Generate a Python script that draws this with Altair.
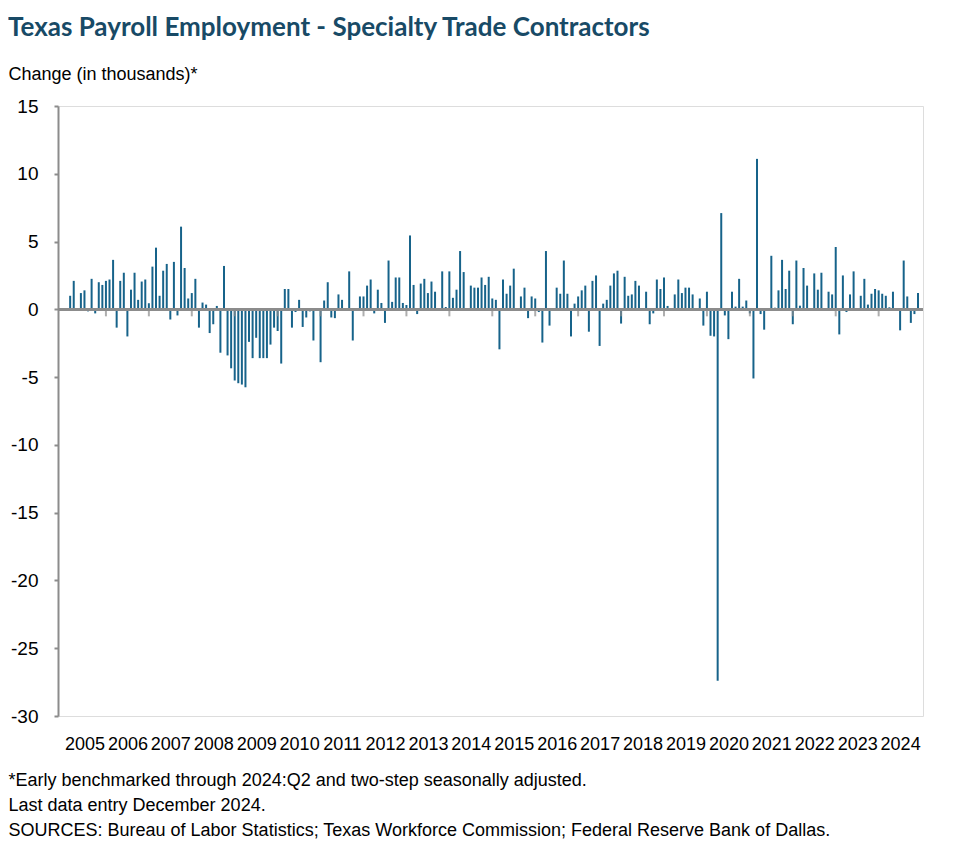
import altair as alt
import pandas as pd

# ---- data (monthly change, thousands), Jan 2005 .. Dec 2024 ----
years = list(range(2005, 2025))
change = [
    0.0, 0.0, 1.0, 2.1, 0.0, 1.2, 1.4, -0.15, 2.25, -0.3, 2.0, 1.8,        # 2005
    2.1, 2.2, 3.65, -1.35, 2.1, 2.7, -2.0, 1.45, 2.7, 0.7, 2.05, 2.2,      # 2006
    0.45, 3.15, 4.55, 1.0, 2.85, 3.35, -0.75, 3.5, -0.45, 6.1, 3.05, 0.8,  # 2007
    1.2, 2.25, -1.35, 0.5, 0.35, -1.75, -1.1, 0.25, -3.2, 3.2, -3.4, -4.35,  # 2008
    -5.25, -5.45, -5.55, -5.75, -2.4, -3.6, -2.1, -3.6, -3.6, -3.6, -2.6, -1.35,  # 2009
    -1.6, -4.0, 1.5, 1.5, -1.35, -0.2, 0.7, -1.3, -0.6, -0.15, -2.3, 0.0,  # 2010
    -3.9, 0.65, 2.0, -0.6, -0.65, 1.1, 0.7, 0.0, 2.8, -2.3, 0.0, 0.95,     # 2011
    0.95, 1.75, 2.2, -0.3, 1.45, 0.47, -1.0, 3.6, 0.55, 2.35, 2.35, 0.47,  # 2012
    0.32, 5.45, 1.8, -0.35, 1.9, 2.25, 1.2, 2.05, 1.3, 0.0, 2.8, 0.17,     # 2013
    2.8, 0.85, 1.45, 4.3, 2.75, 0.0, 1.75, 1.6, 1.6, 2.35, 1.8, 2.4,       # 2014
    0.8, 0.7, -2.95, 2.2, 1.15, 1.75, 3.0, 0.0, 0.95, 1.6, -0.65, 0.95,    # 2015
    0.8, -0.2, -2.45, 4.3, -1.2, 0.0, 1.6, 1.15, 3.6, 1.15, -2.0, 0.42,    # 2016
    0.95, 1.4, 1.75, -1.65, 2.1, 2.5, -2.7, 0.42, 0.7, 1.75, 2.65, 2.85,   # 2017
    -1.05, 2.4, 1.0, 1.1, 2.1, 1.75, 0.0, 1.3, -1.1, -0.3, 2.2, 1.5,       # 2018
    2.35, 0.25, 0.0, 1.1, 2.2, 1.2, 1.6, 1.6, 1.1, 0.0, 0.8, -1.2,         # 2019
    1.3, -1.95, -2.0, -27.4, 7.1, -0.45, -2.2, 1.3, 0.2, 2.25, 0.2, 0.65,  # 2020
    -0.3, -5.1, 11.1, -0.35, -1.5, 0.0, 3.95, 0.12, 1.4, 3.65, 1.5, 2.85,  # 2021
    -1.1, 3.6, 0.27, 3.05, 1.75, 0.0, 2.65, 1.45, 2.7, 0.0, 1.3, 1.1,      # 2022
    4.6, -1.85, 2.5, -0.2, 1.1, 2.8, 0.0, 1.0, 2.25, 0.35, 1.15, 1.5,      # 2023
    1.4, 1.15, 1.0, 0.15, 1.3, 0.0, -1.55, 3.6, 0.95, -1.0, -0.35, 1.2,    # 2024
]
y_ticks = [-30, -25, -20, -15, -10, -5, 0, 5, 10, 15]

title_text = "Texas Payroll Employment - Specialty Trade Contractors"
y_title = "Change (in thousands)*"
notes = [
    "*Early benchmarked through 2024:Q2  and two-step seasonally adjusted.",
    "Last data entry December 2024.",
    "SOURCES:  Bureau of Labor Statistics; Texas Workforce Commission;  Federal Reserve Bank of Dallas.",
]

# ---- build tables ----
n = len(change)
df = pd.DataFrame({"idx": list(range(n)), "change": change})
year_start = pd.DataFrame({"idx": [12 * k for k in range(1, len(years))]})
label_pos = [12 * k + 6 for k in range(len(years))]

BAR = "#17638a"
GRAY = "#8c8c8c"
FONT = "Liberation Sans"

x_scale = alt.Scale(domain=[0, n - 1], nice=False, zero=False)
y_scale = alt.Scale(domain=[-30, 15], nice=False)

bars = alt.Chart(df).mark_bar(size=2, color=BAR).encode(
    x=alt.X(
        "idx:Q",
        scale=x_scale,
        axis=alt.Axis(
            values=label_pos,
            labelExpr="floor(datum.value / 12) + 2005",
            domain=False,
            ticks=False,
            grid=False,
            labelFont=FONT,
            labelFontSize=18,
            labelColor="black",
            labelPadding=19,
            title=notes,
            titleFont=FONT,
            titleFontSize=18,
            titleFontWeight="normal",
            titleColor="black",
            titleAlign="left",
            titleAnchor="start",
            titleBaseline="top",
            titleX=-50,
            titleY=55,
            titleLineHeight=25,
        ),
    ),
    y=alt.Y(
        "change:Q",
        scale=y_scale,
        axis=alt.Axis(
            values=y_ticks,
            labelExpr="'' + datum.value",
            grid=False,
            domainColor=GRAY,
            domainWidth=2,
            tickColor=GRAY,
            tickSize=4,
            tickWidth=2,
            labelFont=FONT,
            labelFontSize=19,
            labelColor="black",
            labelPadding=16,
            title=y_title,
            titleFont=FONT,
            titleFontSize=18,
            titleFontWeight="normal",
            titleColor="black",
            titleAngle=0,
            titleAlign="left",
            titleBaseline="middle",
            titleX=-50,
            titleY=-32,
        ),
    ),
)

zero_line = alt.Chart(df).mark_rule(color=GRAY, strokeWidth=2).encode(
    y=alt.datum(0)
)

year_ticks = alt.Chart(year_start).mark_tick(
    orient="vertical", size=7, thickness=2, yOffset=3.5, color=GRAY
).encode(x=alt.X("idx:Q", scale=x_scale), y=alt.datum(0))

chart = (
    alt.layer(bars, zero_line, year_ticks)
    .properties(
        width=865,
        height=610,
        padding={"left": 50, "top": 98, "right": 40, "bottom": 136},
        autosize=alt.AutoSizeParams(type="none"),
        title=alt.TitleParams(
            text=title_text,
            anchor="start",
            frame="group",
            dx=-50,
            font="Lato",
            fontSize=26,
            fontWeight="bold",
            color="#184a66",
            offset=24,
        ),
    )
    .configure_view(stroke=None)
    .configure(background="white")
)

chart.save("out.html", embed_options={"renderer": "svg", "actions": False})
